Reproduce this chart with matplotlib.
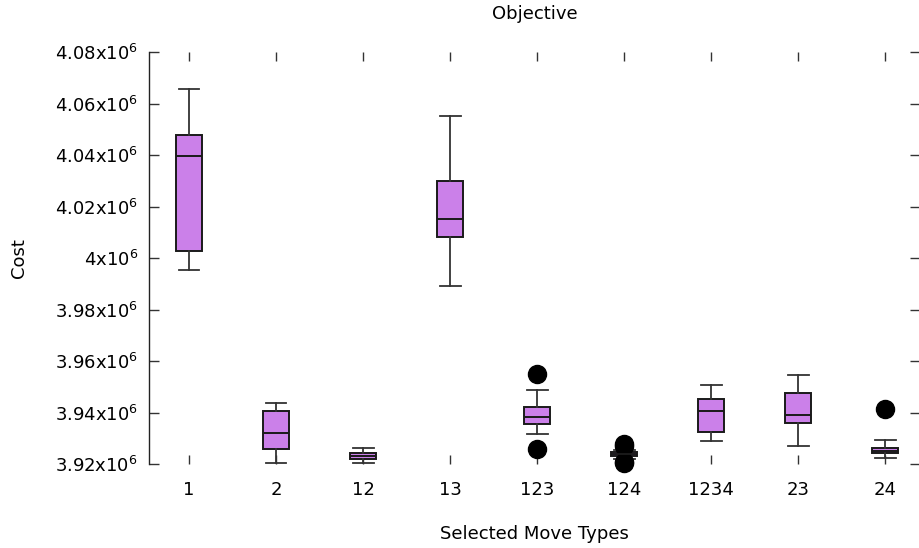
import matplotlib
matplotlib.use("Agg")
import matplotlib.pyplot as plt
from matplotlib.ticker import FuncFormatter

# ── data (cost values in units of 1e6) ──────────────────────────────────────
move_types = ["1", "2", "12", "13", "123", "124", "1234", "23", "24"]
whis_low   = [3.9954, 3.9202, 3.9202, 3.9890, 3.9315, 3.9221, 3.9289, 3.9271, 3.9222]
q1         = [4.0029, 3.9259, 3.9221, 4.0082, 3.9357, 3.9232, 3.9324, 3.9359, 3.9243]
median     = [4.0396, 3.9322, 3.9230, 4.0152, 3.9383, 3.9238, 3.9404, 3.9389, 3.9252]
q3         = [4.0477, 3.9404, 3.9244, 4.0299, 3.9420, 3.9246, 3.9453, 3.9477, 3.9263]
whis_high  = [4.0655, 3.9437, 3.9261, 4.0550, 3.9489, 3.9256, 3.9508, 3.9544, 3.9292]
outliers   = [[], [], [], [], [3.9551, 3.9258], [3.9279, 3.9268, 3.9209, 3.9203],
              [], [], [3.9414]]
y_ticks    = [3.92, 3.94, 3.96, 3.98, 4.00, 4.02, 4.04, 4.06, 4.08]

stats = []
for i, name in enumerate(move_types):
    stats.append(dict(label=name, med=median[i], q1=q1[i], q3=q3[i],
                      whislo=whis_low[i], whishi=whis_high[i],
                      fliers=outliers[i]))

fig = plt.figure(figsize=(9.2, 5.48), dpi=100)
ax = fig.add_axes([149 / 920, 1 - 464 / 548, 1 - 149 / 920, (464 - 52) / 548])

line_col = "#333333"
bp = ax.bxp(stats, positions=range(len(move_types)), widths=0.30,
            capwidths=0.24, patch_artist=True,
            boxprops=dict(facecolor="#cb80e9", edgecolor="#1a1a1a", linewidth=1.4),
            medianprops=dict(color="#1a1a1a", linewidth=1.4),
            whiskerprops=dict(color=line_col, linewidth=1.3),
            capprops=dict(color=line_col, linewidth=1.3),
            flierprops=dict(marker="o", markerfacecolor="black",
                            markeredgecolor="black", markersize=13))
for f in bp["fliers"]:
    f.set_clip_on(False)

ax.set_xlim(-0.46, 8.40)
ax.set_ylim(3.92, 4.08)
ax.set_yticks(y_ticks)
ax.yaxis.set_major_formatter(FuncFormatter(lambda v, p: f"{v:g}x10$^{{6}}$"))
ax.set_xticks(range(len(move_types)))
ax.set_xticklabels(move_types)

for side in ("top", "bottom", "right"):
    ax.spines[side].set_visible(False)
ax.spines["left"].set_color("#222222")
ax.spines["left"].set_linewidth(1.0)

fs = 13
ax.tick_params(axis="y", which="both", left=True, right=True, direction="in",
               length=7, width=1.0, color="#333333", labelsize=fs, pad=8)
ax.tick_params(axis="x", which="both", bottom=True, top=True, direction="in",
               length=6.5, width=1.0, color="#333333", labelsize=fs, pad=12.5)

ax.set_title("Objective", fontsize=fs, pad=24)
ax.set_xlabel("Selected Move Types", fontsize=fs, labelpad=18.5)
ax.set_ylabel("Cost", fontsize=fs, labelpad=19)

fig.savefig("out.png", dpi=100)
